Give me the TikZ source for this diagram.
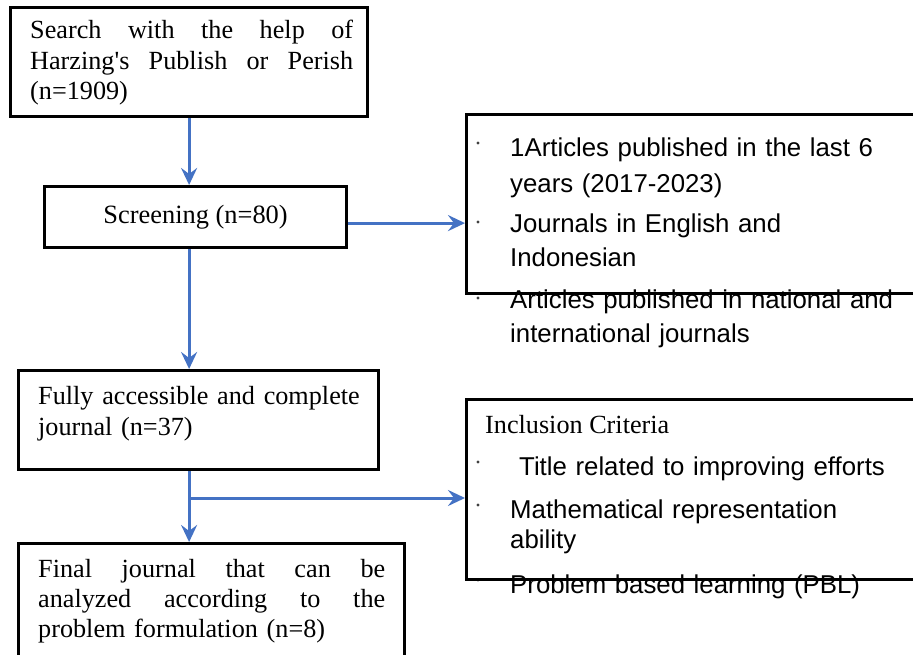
\documentclass[tikz,border=0pt]{standalone}
\usepackage{fontspec}
\setmainfont{Liberation Serif}
\setsansfont{Liberation Sans}
\usetikzlibrary{arrows.meta}
\definecolor{arrblue}{HTML}{4472C4}
\newcommand{\jline}[2]{\leavevmode\hbox to #1{#2}}
\tikzset{
  box/.style={draw=black, line width=3.2pt, rectangle, inner sep=0pt, anchor=north west},
  serif/.style={font=\fontsize{26.2}{30.5}\selectfont, inner sep=0pt, anchor=base west, align=left},
  sans/.style={font=\sffamily\fontsize{25.8}{35}\selectfont, inner sep=0pt, anchor=base west, align=left, text width=420pt},
  arr/.style={draw=arrblue, line width=3pt, -{Stealth[length=17pt,width=16pt,inset=6pt]}},
  dot/.style={fill=black!75}
}
\begin{document}
\begin{tikzpicture}[x=1pt,y=-1pt]
\useasboundingbox (0,0) rectangle (913,655);
\clip (0,0) rectangle (913,655);
\fill[white] (0,0) rectangle (913,655);

% text of left boxes
\node[serif, text width=330pt] (t1) at (30,39)
  {\jline{323pt}{Search\hfill with\hfill the\hfill help\hfill of}\\
   \jline{323pt}{Harzing\textquotesingle s\hfill Publish\hfill or\hfill Perish}\\
   (n=1909)};
\node[serif, text width=340pt, font=\fontsize{26.2}{31}\selectfont] (t3) at (38,404)
  {Fully accessible and complete\\journal (n=37)};
\node[serif, text width=355pt, font=\fontsize{26.2}{30}\selectfont] (t4) at (38,577)
  {\jline{347pt}{Final\hfill journal\hfill that\hfill can\hfill be}\\
   \jline{347pt}{analyzed\hfill according\hfill to\hfill the}\\
   problem formulation (n=8)};

% text of right boxes
\node[sans, font=\sffamily\fontsize{25.8}{36}\selectfont] (a1) at (510,157)
  {1Articles published in the last 6\\years (2017-2023)};
\node[sans, font=\sffamily\fontsize{25.8}{34}\selectfont] (a2) at (510,233)
  {Journals in English and\\Indonesian};
\node[sans, font=\sffamily\fontsize{25.8}{34}\selectfont] (a3) at (510,308)
  {Articles published in national and\\international journals};

\node[serif] (ct) at (485,433) {Inclusion Criteria};
\node[sans] (i1) at (510,475) {\hspace*{9pt}Title related to improving efforts};
\node[sans, font=\sffamily\fontsize{25.8}{30}\selectfont] (i2) at (510,518)
  {Mathematical representation\\ability};
\node[sans] (i3) at (510,593) {Problem based learning (PBL)};

% bullets
\foreach \yy in {143,222,298,462,505,580}
  \fill[dot] (478,\yy) circle (1.6);

% boxes
\node[box, minimum width=357pt, minimum height=109pt] (b1) at (9,6) {};
\node[box, minimum width=302pt, minimum height=61pt, font=\fontsize{26.4}{30.5}\selectfont] (b2) at (43,185) {Screening (n=80)};
\node[box, minimum width=360pt, minimum height=99pt] (b3) at (17,369) {};
\node[box, minimum width=386pt, minimum height=130pt] (b4) at (17,542) {};
\node[box, minimum width=460pt, minimum height=179pt] (c1) at (465,113) {};
\node[box, minimum width=460pt, minimum height=180pt] (c2) at (465,398) {};

% connectors
\coordinate (p1) at ([yshift=-6pt]b2.east);
\coordinate (j) at (b1.south |- 0,498);
\draw[arr] (b1.south) -- (b1.south |- b2.north);
\draw[arr] (p1) -- (p1 -| c1.west);
\draw[arr] (b1.south |- b2.south) -- (b1.south |- b3.north);
\draw[arr] (b1.south |- b3.south) -- (b1.south |- b4.north);
\draw[arr] (j) -- (j -| c2.west);
\end{tikzpicture}
\end{document}
